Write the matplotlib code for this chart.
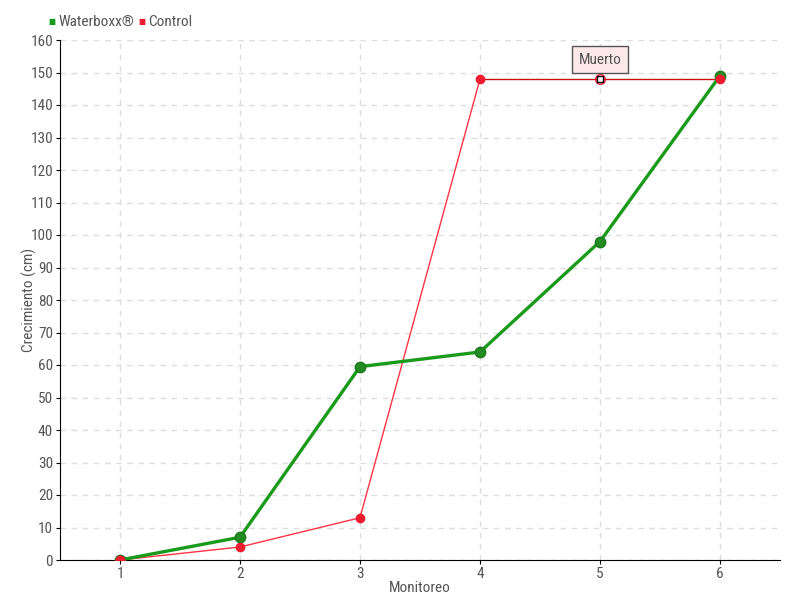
import matplotlib.pyplot as plt
from matplotlib import font_manager

# pick a narrow font if there is one
names = set(f.name for f in font_manager.fontManager.ttflist)
fam = 'DejaVu Sans'
for c in ['Liberation Sans Narrow', 'DejaVu Sans Condensed', 'Roboto Condensed']:
    if c in names:
        fam = c
        break
plt.rcParams['font.family'] = [fam, 'DejaVu Sans']
plt.rcParams['font.stretch'] = 'condensed'

monitoreo = [1, 2, 3, 4, 5, 6]
waterboxx = [0, 7, 59.5, 64, 98, 149]
control = [0, 4, 13, 148, 148, 148]
yticks = list(range(0, 161, 10))
txt = '#555555'

fig = plt.figure(figsize=(8, 6), dpi=100)
ax = fig.add_axes([60/800, 40/600, 720/800, 520/600])

# control: thin red, last part darker
ax.plot(monitoreo[:4], control[:4], color='#ff3344', lw=1, zorder=3)
ax.plot(monitoreo[3:], control[3:], color='#cc1111', lw=1, zorder=3)
ax.plot(monitoreo[:4] + monitoreo[5:], control[:4] + control[5:], 'o', color='#ee1c2e',
        ms=6, mec='#ee1c2e', zorder=5)
ax.plot(monitoreo[4], control[4], 's', color='white', mec='black', ms=4.5, mew=1, zorder=6)
ax.plot(monitoreo[4], control[4], 'o', color='none', mec='#ee1c2e', ms=7, mew=1, zorder=5)

ax.plot(monitoreo, waterboxx, color='#1a9a1a', lw=2.4, zorder=4,
        marker='o', ms=7.5, mfc='#228b22', mec='#1e7a1e')
# red marker drawn above first point
ax.plot(monitoreo[0], control[0], 'o', color='#ee1c2e', ms=6, zorder=6)

ax.annotate('Muerto', xy=(5, 148), xytext=(5, 154), ha='center', va='center',
            fontsize=11, color=txt,
            bbox=dict(boxstyle='square,pad=0.45', fc='#fde8e8', ec='#555555', lw=1),
            zorder=7)

ax.set_xlim(0.5, 6.5)
ax.set_ylim(0, 160)
ax.set_xticks(monitoreo)
ax.set_yticks(yticks)
ax.grid(True, color='#dddddd', ls=(0, (4, 4)), lw=1)
ax.set_axisbelow(True)
for s in ['top', 'right']:
    ax.spines[s].set_visible(False)
ax.spines['left'].set_color('black')
ax.spines['bottom'].set_color('black')
ax.tick_params(axis='both', colors='black', labelcolor=txt, labelsize=11, length=3,
               direction='out', pad=2)
ax.set_xlabel('Monitoreo', color=txt, fontsize=11)
ax.set_ylabel('Crecimiento (cm)', color=txt, fontsize=11)
ax.xaxis.set_label_coords(0.5, -21/520)
ax.yaxis.set_label_coords(-23/720, 0.5)

y0 = 1 - 22/600
fig.text(48/800, y0, '■', color='#1a9a1a', fontsize=6, va='center')
fig.text(58/800, y0, 'Waterboxx®', color=txt, fontsize=11, va='center')
fig.text(138/800, y0, '■', color='#ee1c2e', fontsize=6, va='center')
fig.text(148/800, y0, 'Control', color=txt, fontsize=11, va='center')

fig.savefig('out.png', dpi=100, facecolor='white')
